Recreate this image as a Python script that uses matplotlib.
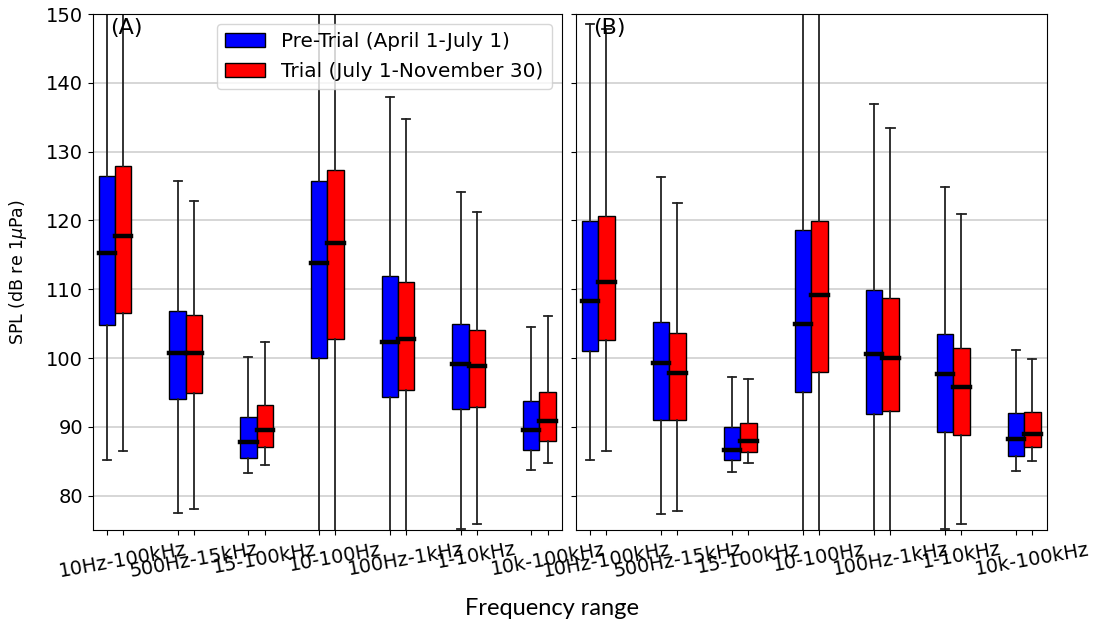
import matplotlib.pyplot as plt
import numpy as np

# frequency bands, one box pair per band
bands = ["10Hz-100kHz", "500Hz-15kHz", "15-100kHz", "10-100Hz",
         "100Hz-1kHz", "1-10kHz", "10k-100kHz"]

# box statistics in dB re 1uPa (whiskers outside 75-150 run off the axes)
# (A)
a_pre_lo  = [85.2, 77.4, 83.3, 65.0, 65.0, 75.2, 83.7]
a_pre_q1  = [104.8, 94.1, 85.4, 100.0, 94.4, 92.6, 86.7]
a_pre_med = [115.2, 100.7, 87.8, 113.8, 102.3, 99.1, 89.5]
a_pre_q3  = [126.5, 106.8, 91.5, 125.7, 111.9, 105.0, 93.8]
a_pre_hi  = [160.0, 125.7, 100.2, 160.0, 138.0, 124.1, 104.5]

a_tri_lo  = [86.5, 78.0, 84.4, 65.0, 65.0, 75.9, 84.7]
a_tri_q1  = [106.5, 94.9, 87.1, 102.8, 95.3, 92.9, 87.9]
a_tri_med = [117.8, 100.7, 89.5, 116.7, 102.7, 98.9, 90.9]
a_tri_q3  = [127.9, 106.2, 93.2, 127.4, 111.1, 104.1, 95.1]
a_tri_hi  = [160.0, 122.9, 102.4, 160.0, 134.8, 121.2, 106.1]

# (B)
b_pre_lo  = [85.2, 77.3, 83.5, 65.0, 65.0, 75.2, 83.6]
b_pre_q1  = [101.0, 91.0, 85.2, 95.1, 91.8, 89.2, 85.8]
b_pre_med = [108.3, 99.3, 86.7, 104.9, 100.6, 97.7, 88.2]
b_pre_q3  = [119.9, 105.2, 90.0, 118.6, 109.9, 103.5, 92.0]
b_pre_hi  = [148.5, 126.3, 97.2, 160.0, 137.0, 124.9, 101.1]

b_tri_lo  = [86.5, 77.7, 84.8, 65.0, 65.0, 75.9, 85.1]
b_tri_q1  = [102.6, 91.0, 86.4, 98.0, 92.3, 88.8, 87.0]
b_tri_med = [111.1, 97.8, 88.0, 109.2, 100.0, 95.8, 89.0]
b_tri_q3  = [120.6, 103.6, 90.6, 119.9, 108.7, 101.5, 92.1]
b_tri_hi  = [147.8, 122.6, 97.0, 160.0, 133.4, 121.0, 99.9]


def make_stats(lo, q1, med, q3, hi, labels):
    return [dict(whislo=lo[i], q1=q1[i], med=med[i], q3=q3[i], whishi=hi[i],
                 fliers=[], label=labels[i]) for i in range(len(lo))]


panels = [
    ("(A)", make_stats(a_pre_lo, a_pre_q1, a_pre_med, a_pre_q3, a_pre_hi, [""] * 7),
            make_stats(a_tri_lo, a_tri_q1, a_tri_med, a_tri_q3, a_tri_hi, bands)),
    ("(B)", make_stats(b_pre_lo, b_pre_q1, b_pre_med, b_pre_q3, b_pre_hi, [""] * 7),
            make_stats(b_tri_lo, b_tri_q1, b_tri_med, b_tri_q3, b_tri_hi, bands)),
]

fig = plt.figure(figsize=(10.95, 6.23), dpi=100)
ax1 = fig.add_axes([0.0847, 0.1493, 0.4283, 0.828])
ax2 = fig.add_axes([0.526, 0.1493, 0.4298, 0.828])

x = np.arange(1, 8)
off = 0.115
w = 0.23

for ax, (tag, st_pre, st_tri) in zip([ax1, ax2], panels):
    for st, pos, col in [(st_pre, x - off, "blue"), (st_tri, x + off, "red")]:
        ax.bxp(st, positions=pos, widths=w, patch_artist=True, showfliers=False,
               boxprops=dict(facecolor=col, edgecolor="black", linewidth=1),
               medianprops=dict(color="black", linewidth=3.2,
                                solid_capstyle="projecting"),
               whiskerprops=dict(color="#222222", linewidth=1.3),
               capprops=dict(color="#222222", linewidth=1.3))
    ax.set_xlim(x[0] - off - 0.2, x[-1] + off + 0.2)
    ax.set_ylim(75, 150)
    ax.set_yticks(np.arange(80, 151, 10))
    ax.yaxis.grid(True, color="#d3d3d3", linewidth=1.3)
    ax.tick_params(axis="x", labelrotation=10, labelsize=14)
    ax.tick_params(axis="y", labelsize=14)
    ax.text(0.037, 0.993, tag, transform=ax.transAxes, va="top", fontsize=16)

ax2.tick_params(axis="y", labelleft=False)
ax1.set_ylabel(r"SPL (dB re 1$\mu$Pa)", fontsize=12.5)
ax1.yaxis.set_label_coords(-0.135, 0.5)

handles = [plt.Rectangle((0, 0), 1, 1, facecolor="blue", edgecolor="black"),
           plt.Rectangle((0, 0), 1, 1, facecolor="red", edgecolor="black")]
ax1.legend(handles, ["Pre-Trial (April 1-July 1)", "Trial (July 1-November 30)"],
           loc="upper right", fontsize=14.4, handlelength=2.0, labelspacing=0.55)

fig.text(0.504, 0.024, "Frequency range", ha="center", va="center",
         fontsize=17, family="Lato")

fig.savefig("out.png", dpi=100)
